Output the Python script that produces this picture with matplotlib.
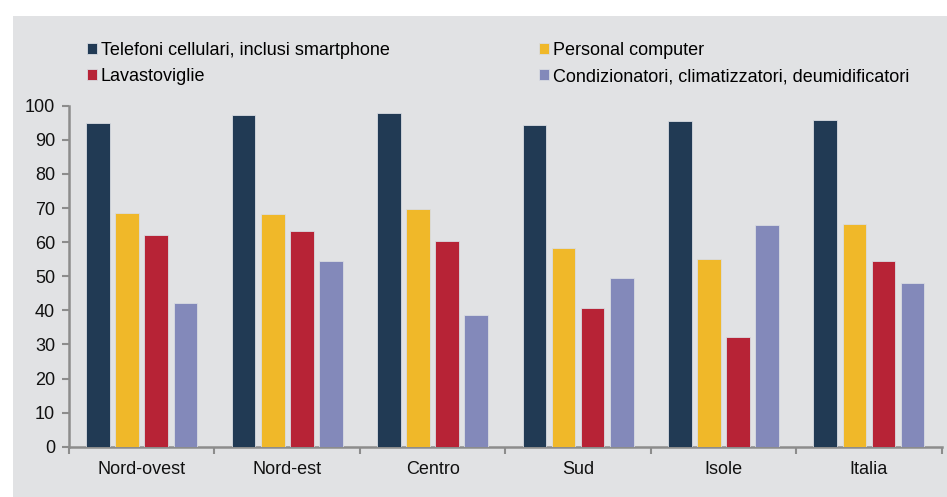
import numpy as np
import matplotlib.pyplot as plt
from matplotlib.patches import Rectangle

plt.rcParams["font.family"] = ["Liberation Sans", "DejaVu Sans"]

# ----------------------------------------------------------------------
# Data: share of households owning each device (%)
# ----------------------------------------------------------------------
regions = ["Nord-ovest", "Nord-est", "Centro", "Sud", "Isole", "Italia"]
series_names = [
    "Telefoni cellulari, inclusi smartphone",
    "Personal computer",
    "Lavastoviglie",
    "Condizionatori, climatizzatori, deumidificatori",
]
telefoni = [94.8, 97.2, 97.9, 94.3, 95.4, 95.8]
computer = [68.5, 68.3, 69.6, 58.3, 55.0, 65.3]
lavastoviglie = [62.2, 63.3, 60.4, 40.7, 32.2, 54.4]
condizionatori = [42.0, 54.4, 38.5, 49.6, 65.1, 47.9]

colors = ["#213A54", "#F0B829", "#B72336", "#8389BA"]
BG = "#E1E2E4"
SPINE = "#8C8C8C"

# ----------------------------------------------------------------------
# Figure
# ----------------------------------------------------------------------
fig = plt.figure(figsize=(9.47, 4.97), dpi=100, facecolor="white")
fig.patches.append(Rectangle((13 / 947, 0), 1, 1 - 16 / 497,
                             transform=fig.transFigure, facecolor=BG,
                             edgecolor="none", zorder=-10))

ax = fig.add_axes([0.0729, 0.1012, 0.9215, 0.6861])
ax.set_facecolor("none")

x = np.arange(len(regions))
width = 0.163
step = 0.2
all_series = [telefoni, computer, lavastoviglie, condizionatori]
bars = []
for i, (vals, name, col) in enumerate(zip(all_series, series_names, colors)):
    b = ax.bar(x + (i - 1.5) * step, vals, width, color=col, label=name,
               edgecolor="#D9DCE2", linewidth=0.6, zorder=3)
    bars.append(b)

ax.set_xlim(-0.5, len(regions) - 0.5)
ax.set_ylim(0, 100)
ax.set_yticks(np.arange(0, 101, 10))
ax.set_xticks(x)
ax.set_xticklabels(regions)
ax.set_xticks(np.arange(-0.5, len(regions), 1), minor=True)

ax.tick_params(axis="x", which="major", length=0, pad=10, labelsize=13,
               labelcolor="#111111")
ax.tick_params(axis="x", which="minor", length=5, width=1.5, color=SPINE,
               direction="out")
ax.tick_params(axis="y", length=5, width=1.5, color=SPINE, direction="out",
               pad=5, labelsize=13, labelcolor="#111111")

for side in ("top", "right"):
    ax.spines[side].set_visible(False)
for side in ("left", "bottom"):
    ax.spines[side].set_color(SPINE)
    ax.spines[side].set_linewidth(1.8)

# Legend: two columns above the plot area, filled row by row
order = [0, 2, 1, 3]
fig.legend([bars[i] for i in order], [series_names[i] for i in order],
           loc="upper left", bbox_to_anchor=(87 / 947, 1 - 42 / 497),
           ncol=2, frameon=False, fontsize=13, handlelength=0.55,
           handleheight=0.55, handletextpad=0.2, columnspacing=8.3,
           labelspacing=0.5, borderaxespad=0, borderpad=0)

plt.savefig("out.png", dpi=100, facecolor="white")
